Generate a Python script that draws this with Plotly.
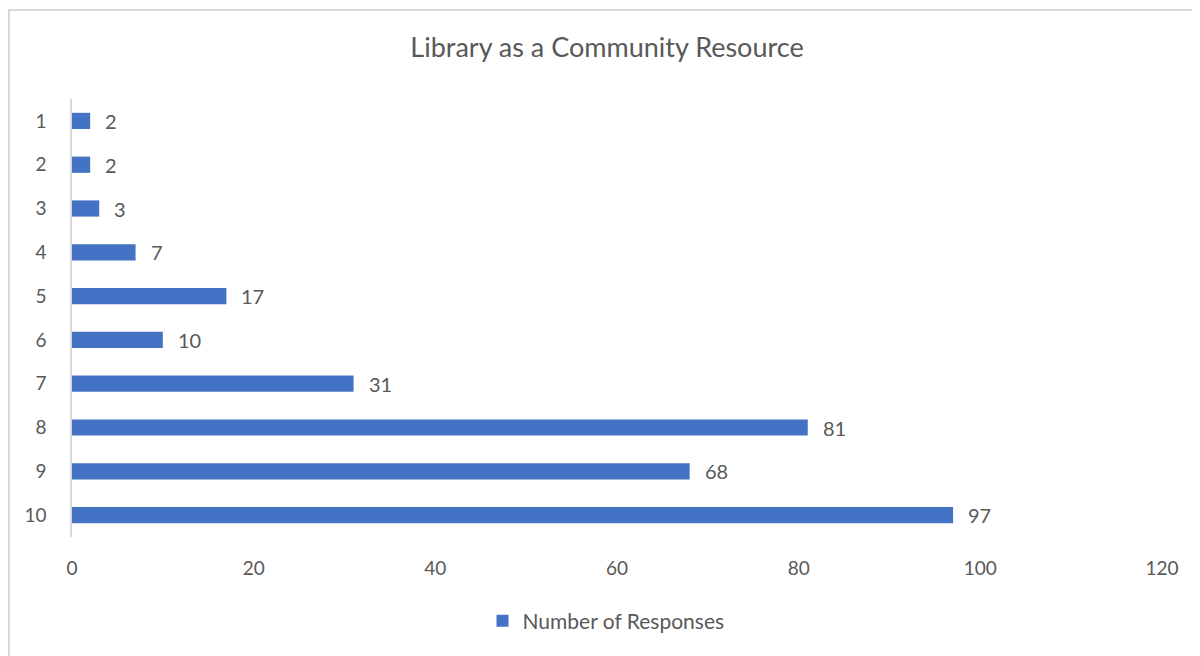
import plotly.graph_objects as go

# Data
categories = ["1", "2", "3", "4", "5", "6", "7", "8", "9", "10"]
responses = [2, 2, 3, 7, 17, 10, 31, 81, 68, 97]
x_ticks = [0, 20, 40, 60, 80, 100, 120]

BAR_COLOR = "#4472C4"
TEXT_COLOR = "#595959"
FONT = "Lato, 'Open Sans', sans-serif"

# Page body adds an 8px offset, so figure pixels = screen pixels - 8
OFF = 8
W, H = 1200, 656
ML, MT = 72 - OFF, 99 - OFF
MR = W - (1162 - OFF)
MB = H - (537 - OFF)
PW = W - ML - MR
PH = H - MT - MB

fig = go.Figure()

fig.add_trace(go.Bar(
    x=responses,
    y=categories,
    orientation="h",
    width=0.37,
    marker=dict(color=BAR_COLOR, line=dict(width=0)),
    name="Number of Responses",
    hoverinfo="x+y",
))

# Data labels (category index used as y position)
for i, val in enumerate(responses):
    fig.add_annotation(
        x=val, y=i,
        text=str(val),
        showarrow=False,
        xanchor="left",
        xshift=13,
        font=dict(family=FONT, size=20, color=TEXT_COLOR),
    )

# Chart border (chart area continues past the right/bottom edge)
fig.add_shape(
    type="rect", xref="paper", yref="paper",
    x0=(1 - ML) / PW, x1=1.3,
    y0=-0.5, y1=(H - MB - 2) / PH,
    line=dict(color="#d9d9d9", width=2),
    fillcolor="rgba(0,0,0,0)",
    layer="below",
)

fig.update_layout(
    width=W, height=H,
    margin=dict(l=ML, r=MR, t=MT, b=MB, autoexpand=False),
    paper_bgcolor="white",
    plot_bgcolor="white",
    title=dict(
        text="Library as a Community Resource",
        x=(607 - OFF) / W, xanchor="center",
        y=1 - (48 - OFF) / H, yanchor="middle",
        font=dict(family=FONT, size=27, color=TEXT_COLOR),
    ),
    xaxis=dict(
        range=[0, 120],
        tickvals=x_ticks,
        showgrid=False,
        zeroline=False,
        showline=False,
        ticks="",
        automargin=False,
        ticklabelstandoff=18,
        tickfont=dict(family=FONT, size=19, color=TEXT_COLOR),
        fixedrange=True,
    ),
    yaxis=dict(
        type="category",
        categoryorder="array",
        categoryarray=categories,
        range=[len(categories) - 0.5, -0.5],
        showgrid=False,
        zeroline=False,
        showline=True,
        linecolor="#d9d9d9",
        linewidth=1.5,
        ticks="",
        automargin=False,
        ticklabelstandoff=20,
        tickfont=dict(family=FONT, size=19, color=TEXT_COLOR),
        fixedrange=True,
    ),
    showlegend=True,
    legend=dict(
        orientation="h",
        x=(606 - OFF) / W, xref="container", xanchor="center",
        y=1 - (621 - OFF) / H, yref="container", yanchor="middle",
        itemwidth=30,
        font=dict(family=FONT, size=21, color=TEXT_COLOR),
    ),
    bargap=0.63,
)

fig.write_html("out.html")
